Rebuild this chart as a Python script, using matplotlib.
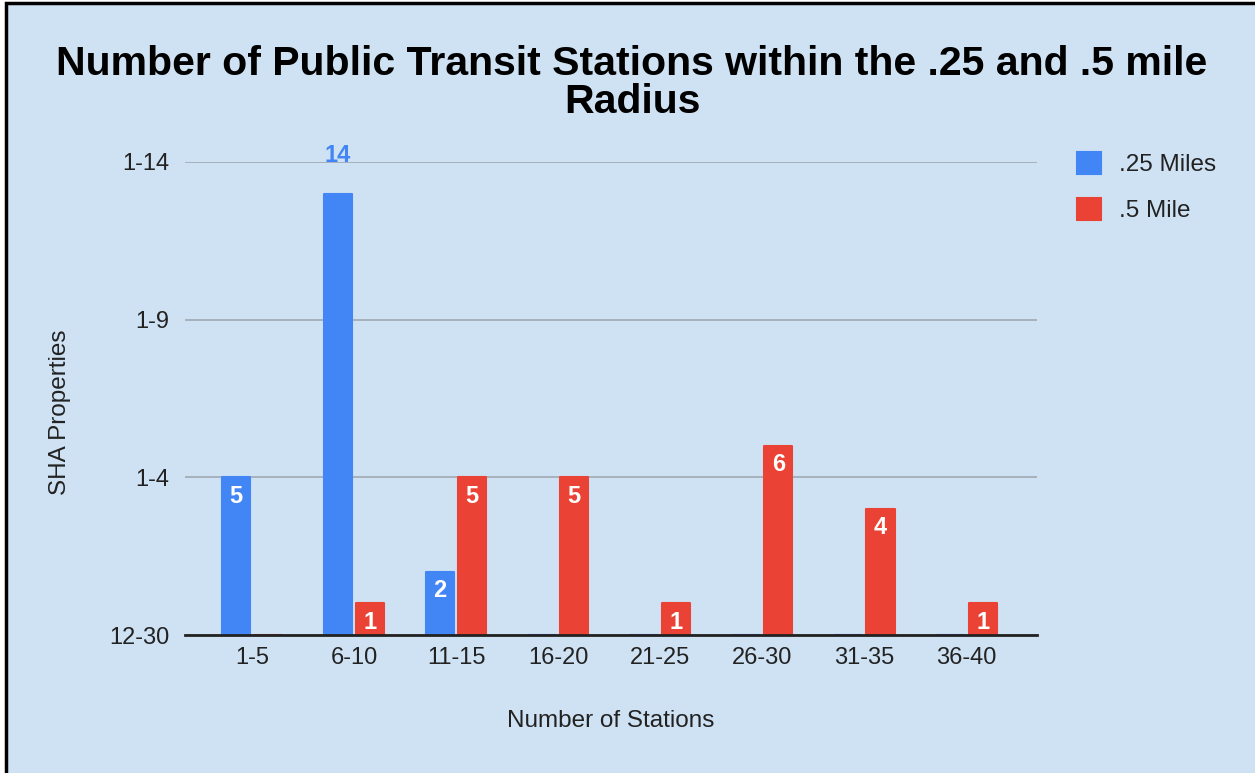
import matplotlib
matplotlib.use('Agg')
from matplotlib import pyplot as plt
from matplotlib.patches import Rectangle
import numpy as np

plt.rcParams['font.family'] = ['Liberation Sans', 'DejaVu Sans']

categories = ['1-5', '6-10', '11-15', '16-20', '21-25', '26-30', '31-35', '36-40']
quarter_mile = [5, 14, 2, 0, 0, 0, 0, 0]
half_mile = [0, 1, 5, 5, 1, 6, 4, 1]
ytick_vals = [0, 5, 10, 15]
ytick_labels = ['12-30', '1-4', '1-9', '1-14']

blue = '#4285f4'
red = '#ea4335'
bg = '#cfe2f3'
txt = '#222222'

fig = plt.figure(figsize=(12.55, 7.73), dpi=100)
fig.patch.set_facecolor('white')
# panel with black frame on left and top
fig.patches.append(Rectangle((6 / 1255, -0.1), 1.2, 1.1 - 3.5 / 773,
                             transform=fig.transFigure, facecolor=bg,
                             edgecolor='black', linewidth=2.5, zorder=-10))

ax = fig.add_axes([185 / 1255, 1 - 635 / 773, 852 / 1255, 473 / 773])
ax.set_facecolor(bg)

x = np.arange(len(categories))
w = 0.275
off = 0.157
# thin same-colour edge with round joins softens the bar corners
b1 = ax.bar(x - off, quarter_mile, w, color=blue, edgecolor=blue,
            linewidth=1.5, joinstyle='round', zorder=3, label='.25 Miles')
b2 = ax.bar(x + off, half_mile, w, color=red, edgecolor=red,
            linewidth=1.5, joinstyle='round', zorder=3, label='.5 Mile')

for bars, vals, col in [(b1, quarter_mile, blue), (b2, half_mile, red)]:
    for bar, v in zip(bars, vals):
        if v == 0:
            continue
        cx = bar.get_x() + bar.get_width() / 2
        if v >= 13:
            # no room inside the frame top, put it above the bar
            ax.text(cx, v + 1.2, str(v), ha='center', va='center', color=col,
                    fontsize=17, fontweight='bold', zorder=4, clip_on=False)
        else:
            ax.text(cx, v - 0.6, str(v), ha='center', va='center',
                    color='white', fontsize=17, fontweight='bold', zorder=4)

ax.set_xlim(-0.656, 7.69)
ax.set_ylim(0, 15)
ax.set_yticks(ytick_vals)
ax.set_yticklabels(ytick_labels)
ax.set_xticks(x)
ax.set_xticklabels(categories)
ax.tick_params(axis='both', length=0, labelsize=17, colors=txt)
ax.tick_params(axis='x', pad=9)
ax.tick_params(axis='y', pad=11)
ax.grid(axis='y', color='#a3adb8', linewidth=1.3, zorder=0)
for s in ['top', 'right', 'left']:
    ax.spines[s].set_visible(False)
ax.spines['bottom'].set_color(txt)
ax.spines['bottom'].set_linewidth(2)
ax.spines['bottom'].set_zorder(5)

fig.text(611 / 1255, 1 - 721 / 773, 'Number of Stations', ha='center',
         va='center', fontsize=17.5, color=txt)
fig.text(60 / 1255, 1 - 412 / 773, 'SHA Properties', ha='center',
         va='center', rotation=90, fontsize=17.5, color=txt)
fig.text(632 / 1255, 1 - 83 / 773,
         'Number of Public Transit Stations within the .25 and .5 mile\nRadius',
         ha='center', va='center', fontsize=29.5, fontweight='bold',
         linespacing=1.03, color='black')

fig.legend(handles=[b1, b2], loc='upper left',
           bbox_to_anchor=(1055 / 1255, 1 - 130 / 773), frameon=False,
           fontsize=17.5, handlelength=1.0, handleheight=1.0,
           handletextpad=0.75, labelspacing=0.9, labelcolor=txt)

fig.savefig('out.png', dpi=100, facecolor=fig.get_facecolor())
